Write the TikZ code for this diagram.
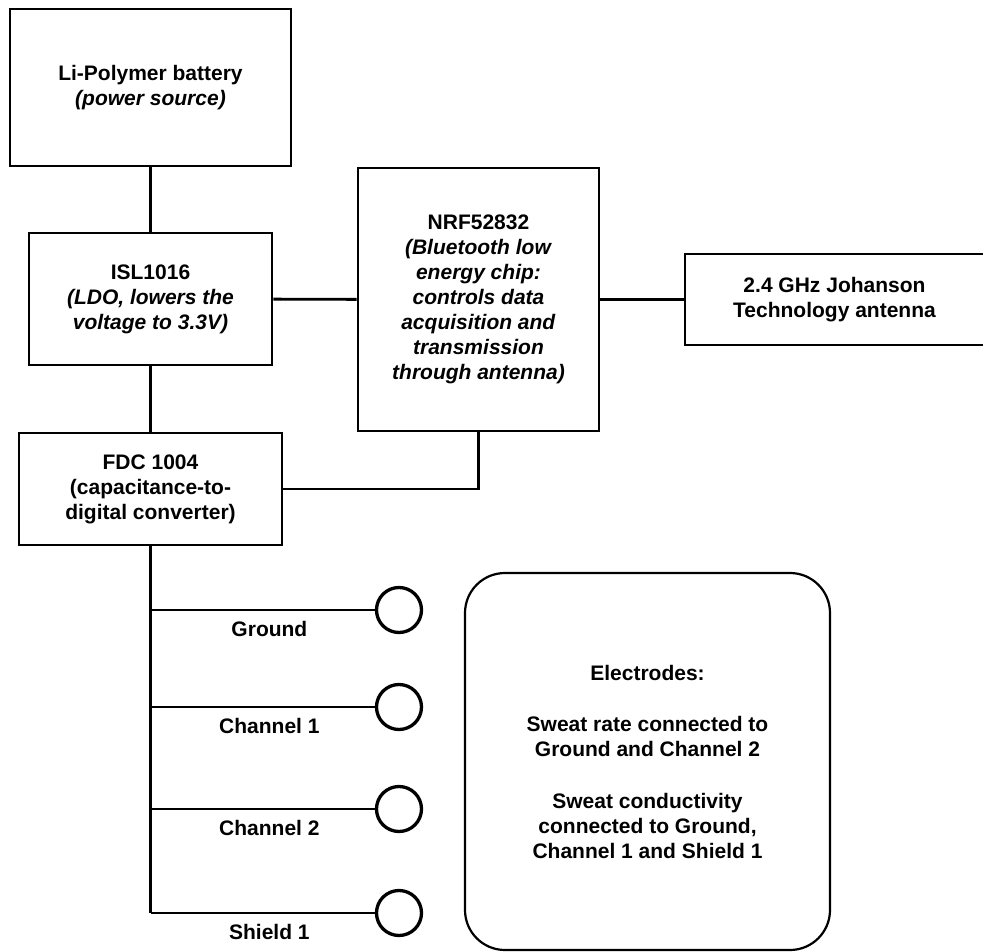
\documentclass[tikz,border=0pt]{standalone}
\usepackage{fontspec}
\setmainfont{Liberation Sans}
\usetikzlibrary{positioning}

\begin{document}
\begin{tikzpicture}[x=1pt,y=-1pt,
  every node/.style={font=\bfseries\fontsize{21}{25}\selectfont,align=center},
  blockbox/.style={draw,line width=2.9pt,inner sep=0pt},
  roundbox/.style={draw,line width=2.2pt,rounded corners=40pt,inner sep=0pt},
  electrode/.style={circle,draw,line width=3.3pt,minimum size=45pt,inner sep=0pt},
  wire/.style={line width=2.9pt},
  chanlabel/.style={below=10pt,pos=0.53,inner sep=0pt}]
\useasboundingbox (0,0) rectangle (983,952);
\clip (0,0) rectangle (983,952);
% supply chain
\node[blockbox,minimum width=281pt,minimum height=157pt] (battery) at (150.5,87.5)
  {Li-Polymer battery\\\textit{(power source)}};
\node[blockbox,minimum width=243pt,minimum height=132pt] (isl) at (150.5,299)
  {ISL1016\\\textit{(LDO, lowers the}\\\textit{voltage to 3.3V)}};
\node[blockbox,minimum width=241pt,minimum height=263pt] (nrf) at (478.5,299.5)
  {NRF52832\\\textit{(Bluetooth low}\\\textit{energy chip:}\\\textit{controls data}\\\textit{acquisition and}\\\textit{transmission}\\\textit{through antenna)}};
\node[blockbox,minimum width=299pt,minimum height=91pt] (antenna) at (834.5,299.5)
  {2.4 GHz Johanson\\Technology antenna};
\node[blockbox,minimum width=263pt,minimum height=112pt] (fdc) at (150.5,489)
  {FDC 1004\\(capacitance-to-\\digital converter)};
% electrodes
\node[electrode] (gnd) at (399,610) {};
\node[electrode] (ch1) at (399,707) {};
\node[electrode] (ch2) at (399,809) {};
\node[electrode] (sh1) at (399,913) {};
\node[roundbox,minimum width=365pt,minimum height=377pt] (electrodes) at (647.5,761.5)
  {Electrodes:\\[26pt]Sweat rate connected to\\Ground and Channel 2\\[27pt]Sweat conductivity\\connected to Ground,\\Channel 1 and Shield 1};
% connections
\draw[wire] (battery) -- (isl);
\draw[wire] (isl) -- (nrf);
\draw[wire] (nrf) -- (antenna);
\draw[wire] (isl) -- (fdc);
\draw[wire] (fdc.east) -| (nrf.south);
\draw[wire] (fdc.south) -- (fdc.south |- sh1);
\draw[wire] (fdc.south |- gnd) -- node[chanlabel] {Ground} (gnd);
\draw[wire] (fdc.south |- ch1) -- node[chanlabel] {Channel 1} (ch1);
\draw[wire] (fdc.south |- ch2) -- node[chanlabel] {Channel 2} (ch2);
\draw[wire] (fdc.south |- sh1) -- node[chanlabel] {Shield 1} (sh1);
\end{tikzpicture}
\end{document}
